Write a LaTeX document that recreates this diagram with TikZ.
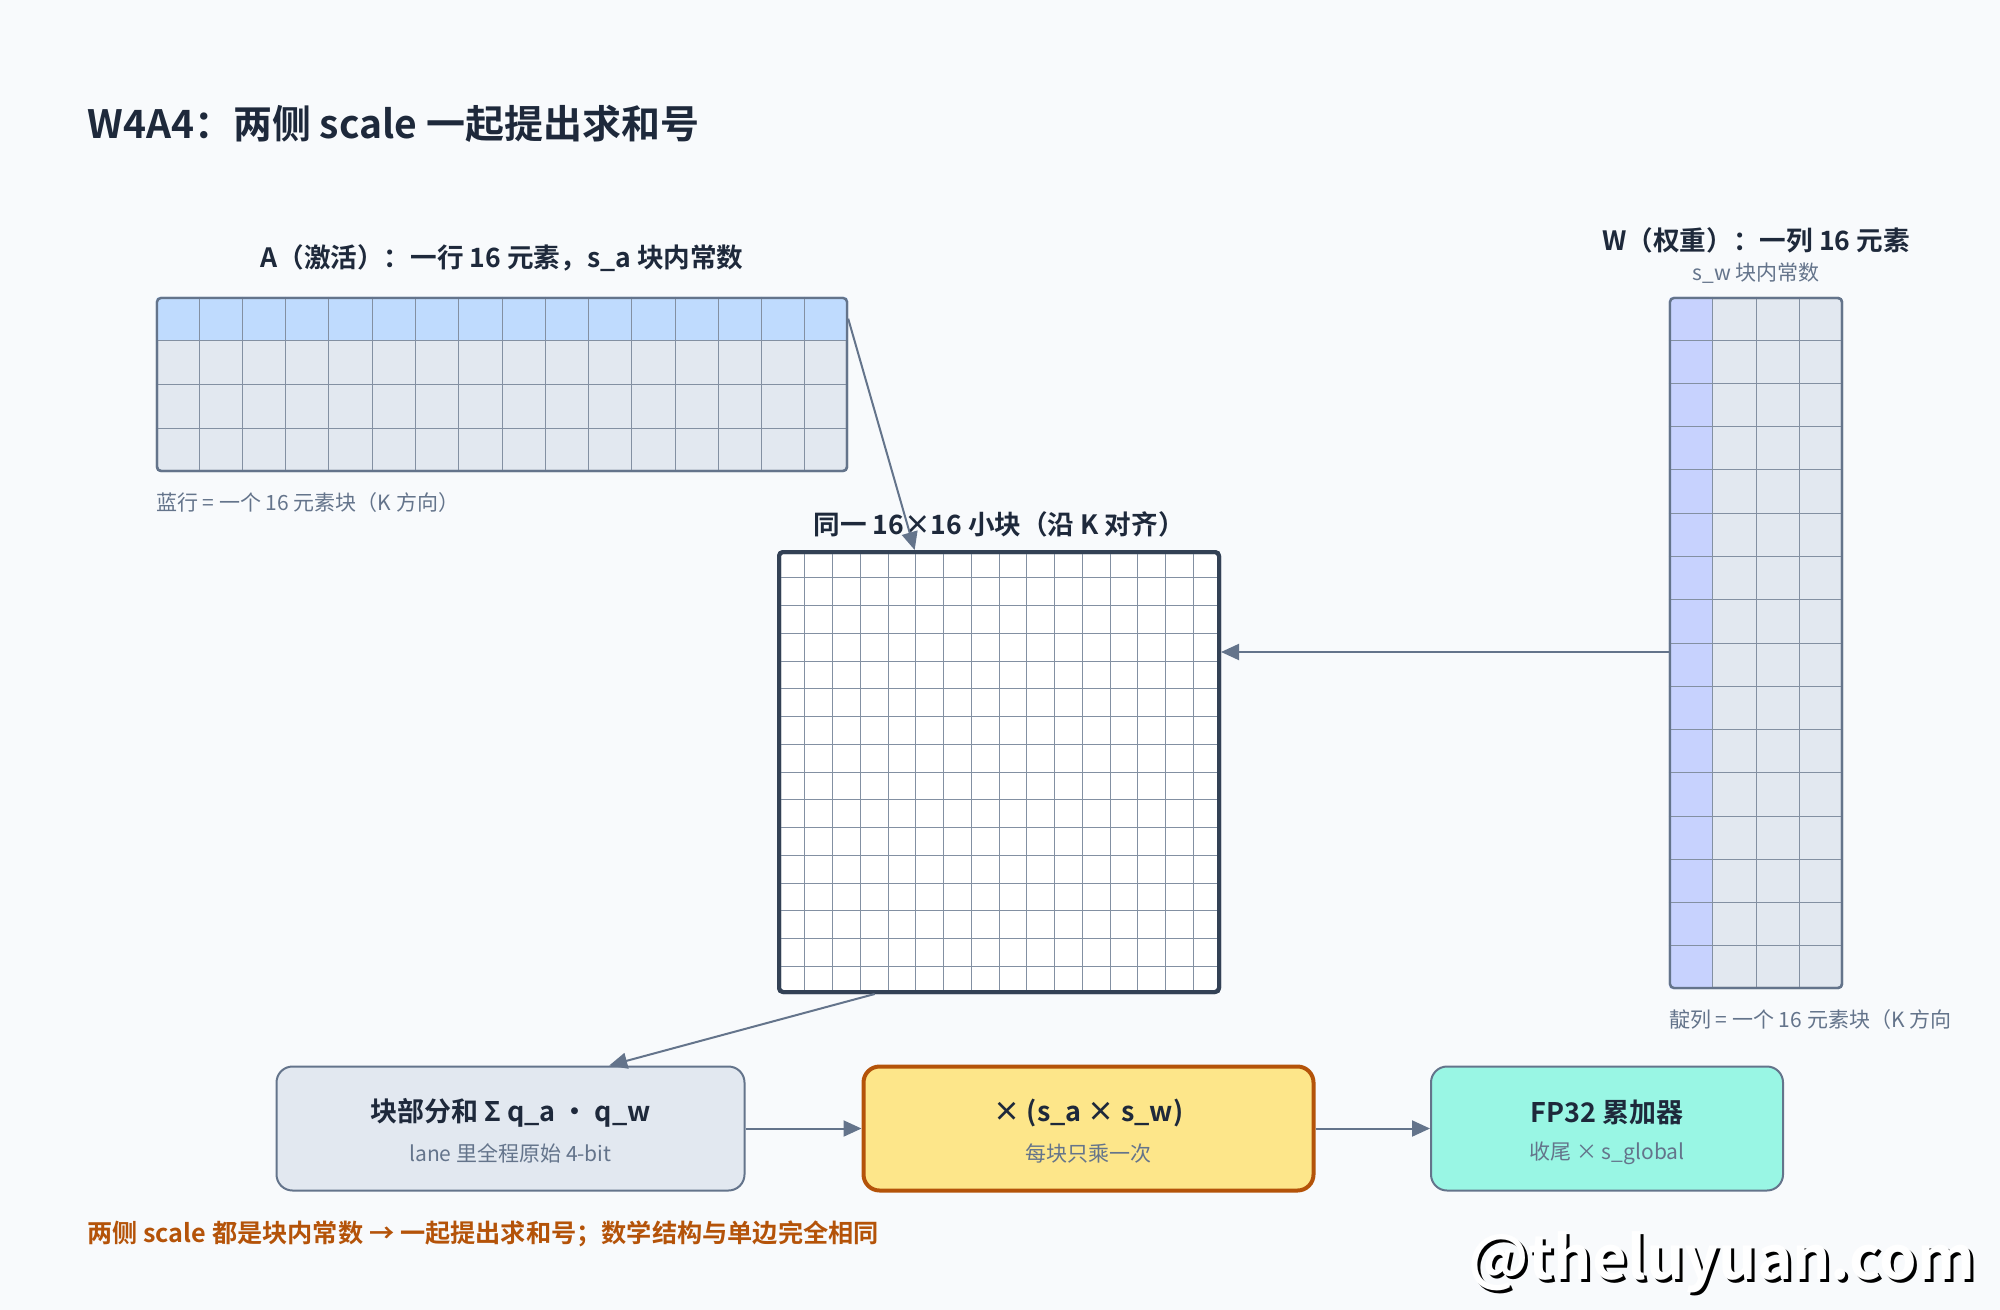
\documentclass[tikz,border=0pt]{standalone}
\usepackage{fontspec}
\setmainfont{Noto Sans CJK SC}[BoldFont={Noto Sans CJK SC Bold}]
\usetikzlibrary{positioning,calc,arrows.meta}
\definecolor{bgc}{HTML}{F8FAFC}
\definecolor{ink}{HTML}{1E293B}
\definecolor{slate}{HTML}{64748B}
\definecolor{cellc}{HTML}{E2E8F0}
\definecolor{rowc}{HTML}{BFDBFE}
\definecolor{colc}{HTML}{C7D2FE}
\definecolor{amber}{HTML}{FDE68A}
\definecolor{rust}{HTML}{B45309}
\definecolor{teal}{HTML}{99F6E4}
\definecolor{dark}{HTML}{334155}
\tikzset{
  grid/.style={rectangle, draw=slate, line width=1.2pt, rounded corners=2pt, inner sep=0pt},
  cell/.style={draw=slate!80, line width=0.5pt},
  stage/.style={rectangle, rounded corners=8pt, line width=1pt, draw=slate, minimum width=234pt, minimum height=62pt, inner sep=0pt},
  head/.style={font=\bfseries\fontsize{13.3}{15}\selectfont, text=ink},
  note/.style={font=\fontsize{10.5}{12}\selectfont, text=slate},
  link/.style={draw=slate, line width=1pt, -{Triangle[length=9pt,width=8pt]}}
}
\begin{document}
\begin{tikzpicture}[x=0.5pt,y=-0.5pt]
  \fill[bgc] (0,0) rectangle (2000,1310);
  \useasboundingbox (0,0) rectangle (2000,1310);
  % Title
  \node[anchor=west, inner sep=0pt, font=\bfseries\fontsize{19.5}{22}\selectfont, text=ink] (title) at (87,124) {W4A4：两侧 scale 一起提出求和号};

  % Blocks
  \node[grid, fill=cellc, minimum width=345pt, minimum height=86.5pt] (A) at (502,384.5) {};
  \fill[rowc, rounded corners=2pt] (A.north west) rectangle ($(A.north east)!0.25!(A.south east)$);
  \foreach \i in {1,...,15}
    \draw[cell] ($(A.north west)!\i/16!(A.north east)$) -- ($(A.south west)!\i/16!(A.south east)$);
  \foreach \j in {1,2,3}
    \draw[cell] ($(A.north west)!\j/4!(A.south west)$) -- ($(A.north east)!\j/4!(A.south east)$);
  \node[grid, minimum width=345pt, minimum height=86.5pt] at (A) {};
  \node[head, above=9pt of A] (Alabel) {A（激活）：一行 16 元素，s\_a 块内常数};
  \node[note, anchor=north west, inner sep=0pt] (Anote) at ($(A.south west)+(0,20)$) {蓝行 = 一个 16 元素块（K 方向）};

  \node[grid, fill=cellc, minimum width=86pt, minimum height=345pt] (W) at (1756,643) {};
  \fill[colc, rounded corners=2pt] (W.north west) rectangle ($(W.south west)!0.25!(W.south east)$);
  \foreach \i in {1,...,15}
    \draw[cell] ($(W.north west)!\i/16!(W.south west)$) -- ($(W.north east)!\i/16!(W.south east)$);
  \foreach \j in {1,2,3}
    \draw[cell] ($(W.north west)!\j/4!(W.north east)$) -- ($(W.south west)!\j/4!(W.south east)$);
  \node[grid, minimum width=86pt, minimum height=345pt] at (W) {};
  \node[note, above=3pt of W] (Wsub) {s\_w 块内常数};
  \node[head, above=-2pt of Wsub] (Wlabel) {W（权重）：一列 16 元素};
  \node[note, anchor=north west, inner sep=0pt] (Wnote) at ($(W.south west)+(0,20)$) {靛列 = 一个 16 元素块（K 方向};

  \node[grid, fill=white, draw=dark, line width=2pt, minimum width=220pt, minimum height=220pt] (T) at (999,772) {};
  \foreach \i in {1,...,15} {
    \draw[cell, line width=0.4pt] ($(T.north west)!\i/16!(T.north east)$) -- ($(T.south west)!\i/16!(T.south east)$);
    \draw[cell, line width=0.4pt] ($(T.north west)!\i/16!(T.south west)$) -- ($(T.north east)!\i/16!(T.south east)$);
  }
  \node[grid, draw=dark, line width=2pt, minimum width=220pt, minimum height=220pt] at (T) {};
  \node[head, above=3pt of T] (Tlabel) {同一 16×16 小块（沿 K 对齐）};

  \node[stage, fill=cellc] (sum) at (510.5,1128.5) {};
  \node[head, font=\bfseries\fontsize{13.5}{15}\selectfont] at ($(sum)+(0,-16)$) {块部分和 Σ q\_a ・ q\_w};
  \node[note] at ($(sum)+(0,25)$) {lane 里全程原始 4-bit};
  \node[stage, fill=amber, draw=rust, line width=2pt, minimum width=225pt] (mul) at (1088.5,1128.5) {};
  \node[head, font=\bfseries\fontsize{13.5}{15}\selectfont] at ($(mul)+(0,-16)$) {× (s\_a × s\_w)};
  \node[note] at ($(mul)+(0,25)$) {每块只乘一次};
  \node[stage, fill=teal, minimum width=176pt] (acc) at (1607,1128.5) {};
  \node[head, font=\bfseries\fontsize{13.5}{15}\selectfont] at ($(acc)+(0,-16)$) {FP32 累加器};
  \node[note] at ($(acc)+(0,25)$) {收尾 × s\_global};

  \node[anchor=west, inner sep=0pt, font=\bfseries\fontsize{12.6}{14}\selectfont, text=rust] (concl) at (87,1234) {两侧 scale 都是块内常数 → 一起提出求和号；数学结构与单边完全相同};
  \node[anchor=east, font=\bfseries\fontsize{30}{34}\selectfont, text=black] at (1985,1265) {@theluyuan.com};
  \node[anchor=east, font=\bfseries\fontsize{30}{34}\selectfont, text=white] (mark) at (1982,1262) {@theluyuan.com};

  % Connections
  \draw[link] ($(A.north east)!0.125!(A.south east)$) -- ($(T.north west)!0.31!(T.north east)$);
  \draw[link] (W.west |- 0,652) -- (T.east |- 0,652);
  \draw[link] ($(T.south west)!0.22!(T.south east)$) -- ($(sum.north west)!0.71!(sum.north east)$);
  \draw[link] (sum) -- (mul);
  \draw[link] (mul) -- (acc);
\end{tikzpicture}
\end{document}
